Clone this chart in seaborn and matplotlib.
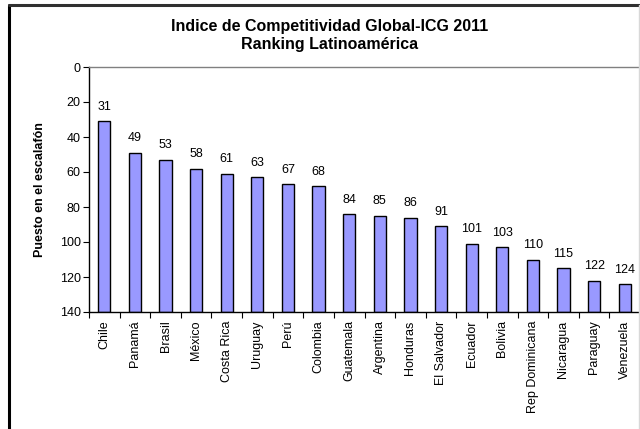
import matplotlib
matplotlib.use("Agg")
import matplotlib.pyplot as plt
from matplotlib.lines import Line2D
import seaborn as sns
import pandas as pd

paises = ["Chile", "Panamá", "Brasil", "México", "Costa Rica", "Uruguay", "Perú",
          "Colombia", "Guatemala", "Argentina", "Honduras", "El Salvador", "Ecuador",
          "Bolivia", "Rep Dominicana", "Nicaragua", "Paraguay", "Venezuela"]
puestos = [31, 49, 53, 58, 61, 63, 67, 68, 84, 85, 86, 91, 101, 103, 110, 115, 122, 124]
y_ticks = [0, 20, 40, 60, 80, 100, 120, 140]
base = 140

sns.set_theme(style="white")
plt.rcParams["font.family"] = ["Liberation Sans", "DejaVu Sans"]
plt.rcParams["text.color"] = "black"
plt.rcParams["axes.labelcolor"] = "black"
plt.rcParams["xtick.color"] = "black"
plt.rcParams["ytick.color"] = "black"

df = pd.DataFrame({"pais": paises, "puesto": puestos})
df["altura"] = df["puesto"] - base

fig = plt.figure(figsize=(6.4, 4.29), dpi=100)
ax = fig.add_axes([89 / 640, 1 - 312 / 429, 1 - 89 / 640, (312 - 67) / 429])

sns.barplot(data=df, x="pais", y="altura", order=paises, ax=ax, color="#9999FF",
            saturation=1, width=0.4, errorbar=None, bottom=base,
            edgecolor="black", linewidth=1.0)

ax.set_ylim(base, 0)
ax.set_xlim(-0.5, len(paises) - 0.5)
ax.set_yticks(y_ticks)
ax.set_yticklabels([str(t) for t in y_ticks], fontsize=9)
ax.set_xticks(range(len(paises)))
ax.set_xticklabels(paises, rotation=90, fontsize=9)
ax.set_xticks([i - 0.5 for i in range(len(paises) + 1)], minor=True)
ax.tick_params(axis="x", which="major", length=0, pad=6)
ax.tick_params(axis="x", which="minor", length=4, width=0.8, color="black", direction="out", bottom=True)
ax.tick_params(axis="y", which="major", length=4, width=0.8, color="black", direction="out", left=True, pad=2)

for i, v in enumerate(puestos):
    ax.annotate(str(v), xy=(i, v), xytext=(0, 6), textcoords="offset points",
                ha="center", va="bottom", fontsize=9, color="black")

ax.set_xlabel("")
ax.set_ylabel("Puesto en el escalafón", fontsize=9, fontweight="bold", labelpad=10, color="black")

for s in ["left", "bottom"]:
    ax.spines[s].set_color("black")
    ax.spines[s].set_linewidth(1.0)
ax.spines["top"].set_color("#808080")
ax.spines["top"].set_linewidth(1.0)
ax.spines["right"].set_color("#d0d0d0")
ax.spines["right"].set_linewidth(1.0)

fig.text(330 / 640, 1 - 35 / 429, "Indice de Competitividad Global-ICG 2011\nRanking Latinoamérica",
         ha="center", va="center", fontsize=11.5, fontweight="bold", linespacing=1.25, color="black")

fig.add_artist(Line2D([9 / 640, 9 / 640], [0, 1 - 5 / 429], color="black", linewidth=2.2))
fig.add_artist(Line2D([9 / 640, 1], [1 - 5 / 429, 1 - 5 / 429], color="#303030", linewidth=2.2))
fig.add_artist(Line2D([638.5 / 640, 638.5 / 640], [0, 1 - 5 / 429], color="#d8d8d8", linewidth=1.0))

fig.savefig("out.png", dpi=100)
